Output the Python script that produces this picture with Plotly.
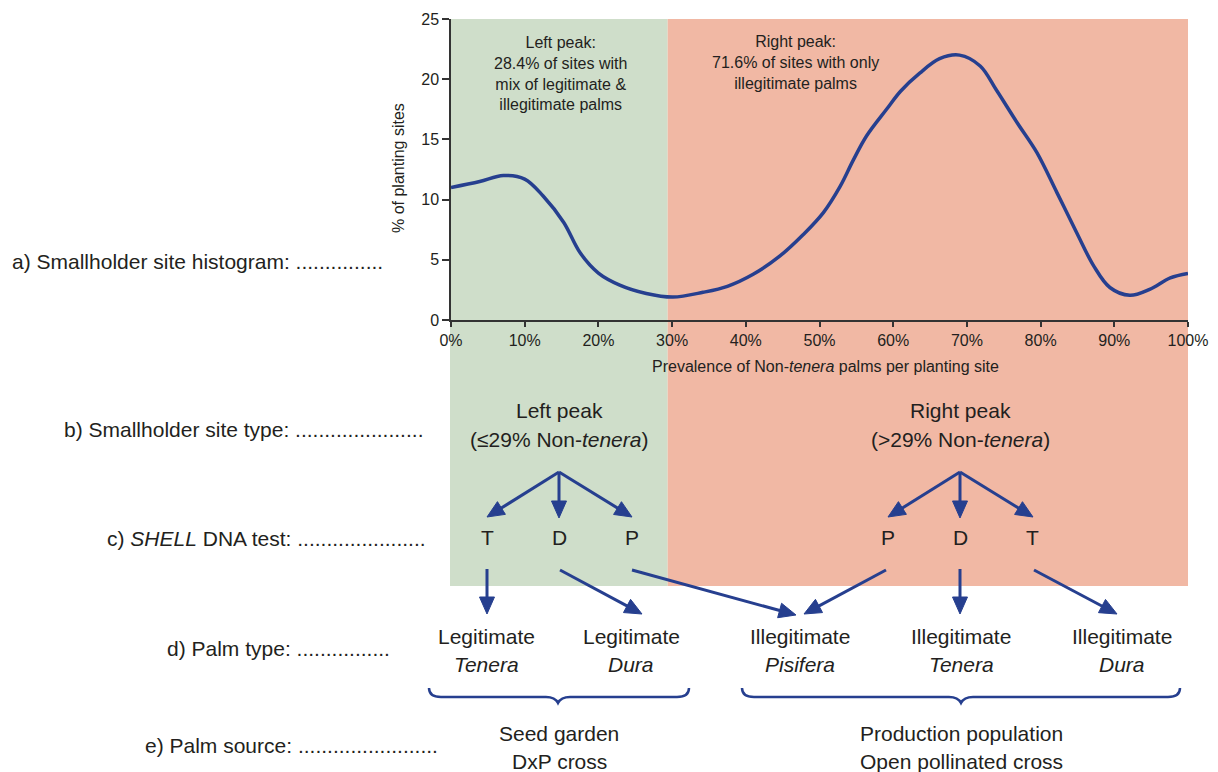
import plotly.graph_objects as go

W, H = 1218, 772

# ---------------- data ----------------
prevalence_pct = [0, 3.9, 7.1, 10, 12.5, 15.3, 17.5, 20, 22.9, 26.5, 30.1, 34.2, 37.5, 41,
                  44.6, 47.8, 50.5, 52.8, 54.6, 56.4, 59.1, 61, 63.6, 66.3, 69, 71.8, 74,
                  76.8, 79.5, 82.2, 84.9, 87.2, 89.4, 92.1, 94.8, 97.6, 100]
pct_sites = [11.0, 11.5, 12.0, 11.7, 10.3, 8.1, 5.6, 3.9, 2.9, 2.2, 1.9, 2.3, 2.8, 3.8,
             5.3, 7.1, 8.9, 11.1, 13.3, 15.3, 17.5, 19.0, 20.5, 21.7, 22.0, 21.1, 19.1,
             16.4, 13.9, 10.6, 7.25, 4.5, 2.7, 2.05, 2.55, 3.5, 3.87]
x_ticks = [0, 10, 20, 30, 40, 50, 60, 70, 80, 90, 100]
x_tick_labels = ["0%", "10%", "20%", "30%", "40%", "50%", "60%", "70%", "80%", "90%", "100%"]
y_ticks = [0, 5, 10, 15, 20, 25]
threshold_pct = 29.4

row_labels = [
    "a) Smallholder site histogram: ...............",
    "b) Smallholder site type: ......................",
    "c) <i>SHELL</i> DNA test: ......................",
    "d) Palm type: ................",
    "e) Palm source: ........................",
]
peak_notes = ["Left peak:<br>28.4% of sites with<br>mix of legitimate &<br>illegitimate palms",
              "Right peak:<br>71.6% of sites with only<br>illegitimate palms"]
site_types = [("Left peak", "(≤29% Non-<i>tenera</i>)"), ("Right peak", "(>29% Non-<i>tenera</i>)")]
dna_left = ["T", "D", "P"]
dna_right = ["P", "D", "T"]
palm_types = [("Legitimate", "<i>Tenera</i>"), ("Legitimate", "<i>Dura</i>"),
              ("Illegitimate", "<i>Pisifera</i>"), ("Illegitimate", "<i>Tenera</i>"),
              ("Illegitimate", "<i>Dura</i>")]
palm_sources = [("Seed garden", "DxP cross"), ("Production population", "Open pollinated cross")]

# ---------------- styling / layout helpers ----------------
FONT = "Liberation Sans, Arial, Helvetica, sans-serif"
TXT = "#231f20"
BLUE = "#263f8f"
GREEN = "#cfdeca"
RED = "#f1b8a4"

X0, X1 = 451, 1188   # plot area px
Y0, Y1 = 19, 320

def px(x):
    return x / W

def py(y):
    return 1 - y / H

def xdata_px(v):
    return X0 + (X1 - X0) * v / 100.0

fig = go.Figure()
fig.add_trace(go.Scatter(x=prevalence_pct, y=pct_sites, mode="lines",
                         line=dict(color=BLUE, width=3.5, shape="spline", smoothing=1.0),
                         hoverinfo="skip", showlegend=False, cliponaxis=False))

shapes = []
# background shading
shapes.append(dict(type="rect", xref="paper", yref="paper", layer="below",
                   x0=px(xdata_px(0) - 1), x1=px(xdata_px(threshold_pct)), y0=py(586), y1=py(Y0),
                   fillcolor=GREEN, line=dict(width=0)))
shapes.append(dict(type="rect", xref="paper", yref="paper", layer="below",
                   x0=px(xdata_px(threshold_pct)), x1=px(xdata_px(100)), y0=py(586), y1=py(Y0),
                   fillcolor=RED, line=dict(width=0)))


def arrow(x0, y0, x1, y1, hl=17, hw=7.5):
    dx, dy = x1 - x0, y1 - y0
    L = (dx * dx + dy * dy) ** 0.5
    ux, uy = dx / L, dy / L
    bx, by = x1 - ux * hl, y1 - uy * hl
    shapes.append(dict(type="line", xref="paper", yref="paper",
                       x0=px(x0), y0=py(y0), x1=px(bx + ux * 2), y1=py(by + uy * 2),
                       line=dict(color=BLUE, width=3)))
    nx, ny = -uy, ux
    p1 = (bx + nx * hw, by + ny * hw)
    p2 = (bx - nx * hw, by - ny * hw)
    path = "M {:.5f},{:.5f} L {:.5f},{:.5f} L {:.5f},{:.5f} Z".format(
        px(x1), py(y1), px(p1[0]), py(p1[1]), px(p2[0]), py(p2[1]))
    shapes.append(dict(type="path", xref="paper", yref="paper", path=path,
                       fillcolor=BLUE, line=dict(color=BLUE, width=1)))


# tree arrows (level 1)
arrow(559, 472, 487, 517)
arrow(559, 472, 559, 518)
arrow(559, 472, 632, 517)
arrow(960, 472, 888, 517)
arrow(960, 472, 960, 518)
arrow(960, 472, 1033, 517)
# tree arrows (level 2)
arrow(487, 569, 487, 614)
arrow(560, 570, 642, 614)
arrow(632, 570, 796, 615)
arrow(886, 570, 804, 614)
arrow(960, 569, 960, 614)
arrow(1034, 570, 1117, 614)


def brace(xl, xc, xr, ytop, yline, ytip):
    pts = [
        "M", (xl, ytop), "Q", (xl, yline), (xl + 12, yline),
        "L", (xc - 12, yline), "Q", (xc - 3, yline), (xc, ytip),
        "Q", (xc + 3, yline), (xc + 12, yline),
        "L", (xr - 12, yline), "Q", (xr, yline), (xr, ytop),
    ]
    s = []
    for p in pts:
        if isinstance(p, str):
            s.append(p)
        else:
            s.append("{:.5f},{:.5f}".format(px(p[0]), py(p[1])))
    shapes.append(dict(type="path", xref="paper", yref="paper", path=" ".join(s),
                       line=dict(color=BLUE, width=2.5)))


brace(429, 558, 689, 688, 697, 703)
brace(742, 961, 1180, 688, 697, 703)

ann = []


def text(x, y, t, size=21, anchor="center", **kw):
    ann.append(dict(x=px(x), y=py(y), xref="paper", yref="paper", text=t, showarrow=False,
                    xanchor=anchor, yanchor="middle", align="center",
                    font=dict(family=FONT, size=size, color=TXT), **kw))


# row labels
row_pos = [(10, 261), (62, 429), (105, 538), (165, 648), (143, 745)]
for (x, y), t in zip(row_pos, row_labels):
    text(x, y, t, anchor="left")

# peak notes inside chart
text(560, 73, peak_notes[0], size=16)
text(795, 63, peak_notes[1], size=16)

# site types
for xc, (l1, l2) in zip([559, 960], site_types):
    text(xc, 410, l1)
    text(xc, 439, l2)

# DNA test letters
for xc, t in zip([487, 559, 632], dna_left):
    text(xc, 537, t)
for xc, t in zip([888, 960, 1032], dna_right):
    text(xc, 537, t)

# palm types
for xc, (l1, l2) in zip([486, 631, 800, 961, 1122], palm_types):
    text(xc, 636, l1)
    text(xc, 664, l2)

# palm sources
for xc, (l1, l2) in zip([559, 961], palm_sources):
    text(xc, 733, l1)
    text(xc, 761, l2)

# axis titles
text(825, 366, "Prevalence of Non-<i>tenera</i> palms per planting site", size=16)
text(398, 168, "% of planting sites", size=16, textangle=-90)

fig.update_layout(
    width=W, height=H, autosize=False,
    margin=dict(l=0, r=0, t=0, b=0, autoexpand=False),
    paper_bgcolor="white", plot_bgcolor="rgba(0,0,0,0)",
    showlegend=False,
    shapes=shapes, annotations=ann,
    xaxis=dict(domain=[X0 / W, X1 / W], range=[0, 100], tickmode="array",
               tickvals=x_ticks, ticktext=x_tick_labels, automargin=False,
               showgrid=False, zeroline=False, showline=True, linecolor="#333333", linewidth=1.5,
               ticks="outside", ticklen=5, tickwidth=1.5, tickcolor="#333333",
               tickfont=dict(family=FONT, size=16, color=TXT), fixedrange=True),
    yaxis=dict(domain=[1 - Y1 / H, 1 - Y0 / H], range=[0, 25], tickmode="array",
               tickvals=y_ticks, automargin=False,
               showgrid=False, zeroline=False, showline=True, linecolor="#333333", linewidth=1.5,
               ticks="outside", ticklen=7, tickwidth=1.5, tickcolor="#333333",
               tickfont=dict(family=FONT, size=16, color=TXT), fixedrange=True),
)

fig.write_html("out.html", include_plotlyjs=True, config={"displayModeBar": False},
               post_script="document.body.style.margin='0px';document.body.style.overflow='hidden';")
